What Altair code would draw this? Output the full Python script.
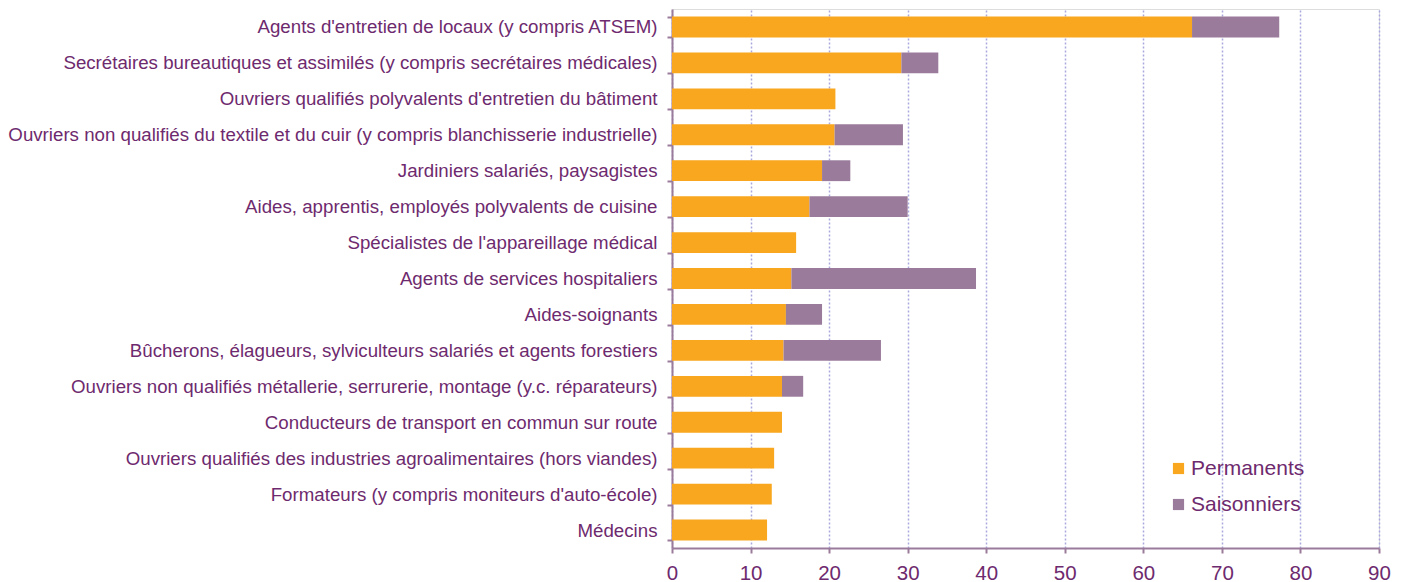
import altair as alt
import pandas as pd

categories = [
    "Agents d'entretien de locaux (y compris ATSEM)",
    "Secrétaires bureautiques et assimilés (y compris secrétaires médicales)",
    "Ouvriers qualifiés polyvalents d'entretien du bâtiment",
    "Ouvriers non qualifiés du textile et du cuir (y compris blanchisserie industrielle)",
    "Jardiniers salariés, paysagistes",
    "Aides, apprentis, employés polyvalents de cuisine",
    "Spécialistes de l'appareillage médical",
    "Agents de services hospitaliers",
    "Aides-soignants",
    "Bûcherons, élagueurs, sylviculteurs salariés et agents forestiers",
    "Ouvriers non qualifiés métallerie, serrurerie, montage (y.c. réparateurs)",
    "Conducteurs de transport en commun sur route",
    "Ouvriers qualifiés des industries agroalimentaires (hors viandes)",
    "Formateurs (y compris moniteurs d'auto-école)",
    "Médecins",
]
permanents = [66.2, 29.2, 20.8, 20.7, 19.1, 17.5, 15.8, 15.2, 14.5, 14.2, 14.0, 14.0, 13.0, 12.7, 12.1]
saisonniers = [11.1, 4.7, 0.0, 8.7, 3.6, 12.5, 0.0, 23.5, 4.6, 12.4, 2.7, 0.0, 0.0, 0.0, 0.0]
series = ["Permanents", "Saisonniers"]
colors = ["#F8A71E", "#9A7B9B"]

rows = []
for c, p, s in zip(categories, permanents, saisonniers):
    rows.append({"cat": c, "serie": series[0], "val": p, "ord": 0})
    rows.append({"cat": c, "serie": series[1], "val": s, "ord": 1})
df = pd.DataFrame(rows)

text_color = "#6E2A6E"
axis_color = "#9A7B9B"

chart = alt.Chart(df).mark_bar().encode(
    y=alt.Y("cat:N", sort=categories, title=None,
            scale=alt.Scale(paddingInner=0.42, paddingOuter=0.21),
            axis=alt.Axis(labelFontSize=18.7, labelColor=text_color, labelFont="Liberation Sans",
                          labelLimit=700, tickBand="extent", tickSize=5, tickColor=axis_color,
                          tickWidth=2, domainColor=axis_color, domainWidth=2, labelPadding=10,
                          grid=False)),
    x=alt.X("val:Q", stack="zero", title=None,
            scale=alt.Scale(domain=[0, 90], nice=False),
            axis=alt.Axis(values=list(range(0, 91, 10)), labelFontSize=20.5, labelColor=text_color,
                          labelFont="Liberation Sans", tickSize=5, tickColor=axis_color, tickWidth=2,
                          domainColor=axis_color, domainWidth=2, labelPadding=10, labelFlush=False,
                          grid=True, gridColor="#A9A9DD", gridDash=[2, 2], gridWidth=1.5)),
    color=alt.Color("serie:N", scale=alt.Scale(domain=series, range=colors),
                    legend=alt.Legend(title=None, orient="none", legendX=496, legendY=449,
                                      symbolType="square", symbolSize=125, symbolStrokeWidth=0,
                                      labelFontSize=21, labelColor=text_color, labelOffset=2,
                                      labelFont="Liberation Sans", rowPadding=14, symbolOffset=0)),
    order=alt.Order("ord:Q"),
).properties(
    width=707, height=539,
    padding={"left": 672, "top": 9, "right": 28, "bottom": 34},
    autosize=alt.AutoSizeParams(type="none"),
).configure_view(stroke=None).configure(background="white")

chart.save("out.html", embed_options={"renderer": "svg", "actions": False})
